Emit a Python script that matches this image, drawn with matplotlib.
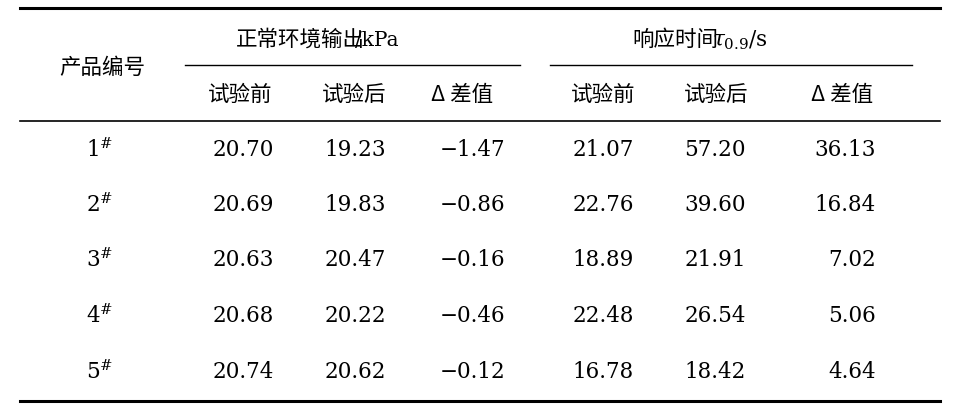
import matplotlib
matplotlib.use("Agg")
import matplotlib.pyplot as plt

# ─── Table data ───────────────────────────────────────────────────────────────
products = ["1", "2", "3", "4", "5"]
before_out = ["20.70", "20.69", "20.63", "20.68", "20.74"]
after_out = ["19.23", "19.83", "20.47", "20.22", "20.62"]
diff_out = ["\u22121.47", "\u22120.86", "\u22120.16", "\u22120.46", "\u22120.12"]
before_t = ["21.07", "22.76", "18.89", "22.48", "16.78"]
after_t = ["57.20", "39.60", "21.91", "26.54", "18.42"]
diff_t = ["36.13", "16.84", "7.02", "5.06", "4.64"]

CJK = ["Noto Sans CJK SC", "DejaVu Serif"]
NUM = ["DejaVu Serif"]
plt.rcParams["mathtext.fontset"] = "dejavuserif"

fig = plt.figure(figsize=(9.54, 4.17), dpi=100)
ax = fig.add_axes([0, 0, 1, 1])
ax.set_xlim(0, 954)
ax.set_ylim(417, 0)
ax.axis("off")

# rules
ax.plot([20, 940], [8, 8], color="black", lw=2.2)
ax.plot([185, 520], [65, 65], color="black", lw=1.0)
ax.plot([550, 912], [65, 65], color="black", lw=1.0)
ax.plot([20, 940], [121, 121], color="black", lw=1.2)
ax.plot([20, 940], [401, 401], color="black", lw=2.2)

fs = 15.5
ax.text(102, 68, "产品编号", family=CJK, fontsize=fs, ha="center", va="center")
ax.text(300, 40, "正常环境输出", family=CJK, fontsize=fs, ha="center", va="center")
ax.text(355, 40, "/kPa", family=NUM, fontsize=fs - 1, ha="left", va="center")
ax.text(675, 40, "响应时间", family=CJK, fontsize=fs, ha="center", va="center")
ax.text(712, 40, r"$\tau_{0.9}$/s", family=NUM, fontsize=fs, ha="left", va="center")

sub = ["试验前", "试验后", "Δ 差值", "试验前", "试验后", "Δ 差值"]
sub_x = [240, 354, 462, 603, 716, 842]
for x, s in zip(sub_x, sub):
    ax.text(x, 95, s, family=CJK, fontsize=fs, ha="center", va="center")

row_y = [150, 205, 260, 316, 372]
for i, y in enumerate(row_y):
    ax.text(100, y, products[i] + r"$^{\#}$", family=NUM, fontsize=fs, ha="center", va="center")
    ax.text(243, y, before_out[i], family=NUM, fontsize=fs, ha="center", va="center")
    ax.text(355, y, after_out[i], family=NUM, fontsize=fs, ha="center", va="center")
    ax.text(505, y, diff_out[i], family=NUM, fontsize=fs, ha="right", va="center")
    ax.text(603, y, before_t[i], family=NUM, fontsize=fs, ha="center", va="center")
    ax.text(715, y, after_t[i], family=NUM, fontsize=fs, ha="center", va="center")
    ax.text(876, y, diff_t[i], family=NUM, fontsize=fs, ha="right", va="center")

fig.savefig("out.png", dpi=100)
